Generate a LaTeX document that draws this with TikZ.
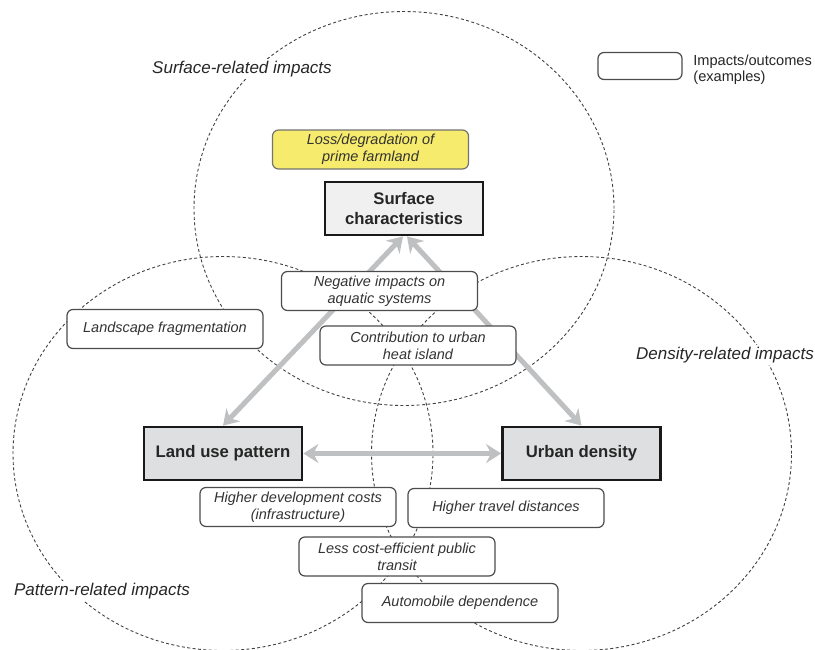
\documentclass[tikz,border=0pt]{standalone}
\usepackage{fontspec}
\setmainfont{Liberation Sans}
\usepackage{tikz}
\usetikzlibrary{arrows.meta}

\definecolor{flowgray}{HTML}{BEC0C2}
\definecolor{farmyellow}{HTML}{F6EB6C}
\definecolor{surffill}{HTML}{EFF0EF}
\definecolor{driverfill}{HTML}{DEDFE0}

\begin{document}
\begin{tikzpicture}[x=0.5pt,y=-0.5pt,>={Stealth[length=7.5pt,width=9.5pt,inset=2.5pt]},
    driver/.style={draw=black!90,line width=1.4pt,minimum width=79pt,minimum height=26.5pt,
      align=center,font=\fontsize{8.35}{9.8}\selectfont\bfseries,text=black!85},
    impact/.style={draw=black!70,line width=0.6pt,rounded corners=3pt,fill=white,
      minimum width=98pt,minimum height=19.5pt,inner sep=1pt,align=center,
      font=\fontsize{7.25}{8.4}\selectfont\itshape,text=black!80},
    zone/.style={draw=black!75,line width=0.45pt,dash pattern=on 1.5pt off 1.2pt},
    zonelabel/.style={fill=white,inner sep=1pt,font=\fontsize{8.5}{10}\selectfont\itshape,text=black!85},
    flow/.style={color=flowgray,line width=2.5pt}]
    \useasboundingbox (0,0) rectangle (815,649);

    % drivers
    \node[driver, fill=surffill] (surf) at (404,208.5) {Surface\\characteristics};
    \node[driver, fill=driverfill] (land) at (223,453.5) {Land use pattern};
    \node[driver, fill=driverfill] (urban) at (581.5,453.5) {Urban density};

    % impact zones
    \draw[zone] (surf.center) ellipse [x radius=105pt, y radius=98.5pt];
    \draw[zone] (land.center) ellipse [x radius=105pt, y radius=98.5pt];
    \draw[zone] (urban.center) ellipse [x radius=105pt, y radius=98.5pt];

    \path[<->, flow]
      ([xshift=-0.5pt]surf.south) edge (land.north)
      ([xshift=1.5pt]surf.south) edge (urban.north)
      (land.east) edge (urban.west)
    ;

    \node[zonelabel] (surflabel) at (242,69) {Surface-related impacts};
    \node[zonelabel] (patlabel) at (102,591) {Pattern-related impacts};
    \node[zonelabel] (denslabel) at (725,355) {Density-related impacts};

    % impacts
    \node[impact, fill=farmyellow, draw=black!55] (farm) at (370.5,149.5) {Loss/degradation of\\prime farmland};
    \node[impact] (aquatic) at (379.5,291) {Negative impacts on\\aquatic systems};
    \node[impact] (frag) at (165,329) {Landscape fragmentation};
    \node[impact] (heat) at (418,345.5) {Contribution to urban\\heat island};
    \node[impact] (devcost) at (298,507) {Higher development costs\\(infrastructure)};
    \node[impact] (travel) at (506,508) {Higher travel distances};
    \node[impact] (transit) at (397,556.5) {Less cost-efficient public\\transit};
    \node[impact] (auto) at (460,603) {Automobile dependence};

    % legend
    \node[impact, minimum width=42pt, minimum height=13.5pt] (key) at (640,66) {};
    \node[anchor=west, align=left, inner sep=2pt, text=black!85,
      font=\fontsize{7.3}{7.8}\selectfont] (keytext) at (689,69.5) {Impacts/outcomes\\(examples)};
  \end{tikzpicture}
\end{document}
